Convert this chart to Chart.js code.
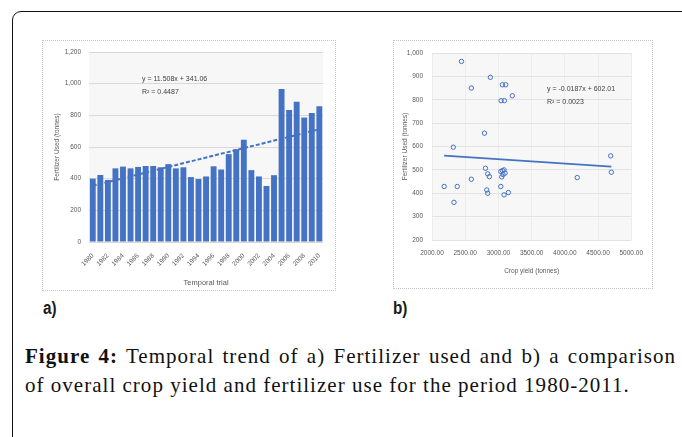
<!DOCTYPE html>
<html>
<head>
<meta charset="utf-8">
<script src="https://cdn.jsdelivr.net/npm/chart.js@4.4.1/dist/chart.umd.min.js"></script>
<style>
  body { margin: 0; width: 682px; height: 437px; overflow: hidden; background: #fff; position: relative; }
  .frame { position: absolute; left: 12px; top: 11px; width: 720px; height: 480px; border: 1.6px solid #111; border-radius: 9px; }
  .panel { position: absolute; border: 1px dotted #c6c6c6; box-sizing: border-box; }
  canvas { position: absolute; }
  .eq { position: absolute; font: 7px 'Liberation Sans Narrow', 'Liberation Sans', sans-serif; color: #404040; line-height: 13px; white-space: nowrap; }
  .tag { position: absolute; font: bold 18px 'Liberation Sans Narrow', 'Liberation Sans', sans-serif; line-height: 1; color: #1a1a1a; transform: scaleX(0.85); transform-origin: left top; }
  .cap { position: absolute; left: 25px; font: 21px 'Liberation Serif', serif; letter-spacing: 1.02px; color: #111; line-height: 29px; white-space: nowrap; }
</style>
</head>
<body>
<div class="frame"></div>

<div class="panel" style="left:42px;top:40px;width:294px;height:251px"></div>
<canvas id="chartA" width="293" height="250" style="left:42px;top:40px"></canvas>
<div class="eq" style="left:142px;top:72px">y = 11.508x + 341.06<br>R² = 0.4487</div>
<div class="tag" style="left:43px;top:299px">a)</div>

<div class="panel" style="left:393px;top:40px;width:260px;height:249px"></div>
<canvas id="chartB" width="259" height="248" style="left:393px;top:40px"></canvas>
<div class="eq" style="left:547px;top:82px">y = -0.0187x + 602.01<br>R² = 0.0023</div>
<div class="tag" style="left:393px;top:299px">b)</div>

<div class="cap" style="top:342px;word-spacing:2px"><b>Figure 4:</b> Temporal trend of a) Fertilizer used and b) a comparison</div>
<div class="cap" style="top:371px">of overall crop yield and fertilizer use for the period 1980-2011.</div>

<script>
// ---- data ----
const years = ['1980', '1981', '1982', '1983', '1984', '1985', '1986', '1987', '1988', '1989',
  '1990', '1991', '1992', '1993', '1994', '1995', '1996', '1997', '1998', '1999',
  '2000', '2001', '2002', '2003', '2004', '2005', '2006', '2007', '2008', '2009', '2010'];
const fertilizer = [400, 423, 392, 465, 476, 465, 474, 480, 480, 472,
  492, 465, 472, 410, 398, 414, 478, 458, 555, 586,
  646, 454, 414, 354, 422, 966, 834, 886, 786, 814, 858];
const trendA = [355, 712];          // trend line at first and last year

const yieldX = [2444, 2879, 2592, 3060, 3110, 3040, 3090, 3209, 2790, 2321,
  2183, 2380, 2331, 2592, 2805, 2839, 2864, 2825, 2839, 3036,
  3061, 3085, 3100, 3070, 3036, 3085, 3150, 4187, 4690, 4700, 3050];
const fertY = [964, 896, 850, 864, 864, 796, 796, 817, 657, 597,
  429, 429, 361, 460, 507, 483, 471, 414, 400, 493,
  497, 500, 486, 480, 429, 393, 403, 467, 560, 490, 470];
const trendBX = [2183, 4700];
const trendBY = [561, 514];

const BLUE = '#4472c4';
Chart.defaults.font.family = "'Liberation Sans Narrow', 'Liberation Sans', sans-serif";
Chart.defaults.font.size = 6.5;
Chart.defaults.color = '#595959';

const plotBg = {
  id: 'plotBg',
  beforeDraw(c) {
    const a = c.chartArea, g = c.ctx;
    g.save(); g.fillStyle = '#f7f7f7'; g.fillRect(a.left, a.top, a.right - a.left, a.bottom - a.top); g.restore();
  }
};

// a) fertilizer bars with dashed linear trend
new Chart(document.getElementById('chartA'), {
  type: 'bar',
  data: {
    labels: years,
    datasets: [
      {
        type: 'line', spanGaps: true, order: 0,
        data: years.map((_, i) => i === 0 ? trendA[0] : i === years.length - 1 ? trendA[1] : null),
        borderColor: BLUE, borderWidth: 2, borderDash: [4, 2], pointRadius: 0
      },
      { data: fertilizer, backgroundColor: BLUE, barPercentage: 0.95, categoryPercentage: 0.82, order: 1 }
    ]
  },
  options: {
    responsive: false, animation: false,
    layout: { padding: { top: 12, right: 9, left: 11, bottom: 0 } },
    plugins: { legend: { display: false }, tooltip: { enabled: false } },
    scales: {
      x: {
        grid: { display: false, drawTicks: false }, border: { display: false },
        ticks: { autoSkip: false, minRotation: 45, maxRotation: 45, padding: 10,
          callback: (v, i) => i % 2 ? '' : years[i] },
        title: { display: true, text: 'Temporal trial', font: { size: 7.5 }, padding: { top: 0, bottom: 3 } },
        afterFit(s) { s.height = 48; }
      },
      y: {
        min: 0, max: 1200,
        ticks: { stepSize: 200, padding: 8 },
        grid: { color: '#d9d9d9', drawTicks: false }, border: { display: false },
        title: { display: true, text: 'Fertilizer Used (tonnes)', font: { size: 6.5 }, padding: 0 },
        afterFit(s) { s.width = 36; }
      }
    }
  },
  plugins: [plotBg]
});

// b) crop yield vs fertilizer scatter with linear trend
new Chart(document.getElementById('chartB'), {
  type: 'scatter',
  data: {
    datasets: [
      {
        type: 'line', data: trendBX.map((x, i) => ({ x, y: trendBY[i] })),
        borderColor: BLUE, borderWidth: 1.8, pointRadius: 0
      },
      {
        data: yieldX.map((x, i) => ({ x, y: fertY[i] })),
        pointRadius: 2.2, borderWidth: 1, borderColor: BLUE, backgroundColor: 'rgba(255,255,255,0)'
      }
    ]
  },
  options: {
    responsive: false, animation: false,
    layout: { padding: { top: 13, right: 18, left: 8, bottom: 0 } },
    plugins: { legend: { display: false }, tooltip: { enabled: false } },
    scales: {
      x: {
        type: 'linear', min: 2000, max: 5000,
        ticks: { stepSize: 500, maxRotation: 0, padding: 9, callback: v => v.toFixed(2) },
        grid: { color: '#ececec', drawTicks: false }, border: { display: false },
        title: { display: true, text: 'Crop yield (tonnes)', font: { size: 6.5 }, padding: { top: 0, bottom: 13 } },
        afterFit(s) { s.height = 48; }
      },
      y: {
        min: 200, max: 1000,
        ticks: { stepSize: 100, padding: 9 },
        grid: { color: '#e3e3e3', drawTicks: false }, border: { display: false },
        title: { display: true, text: 'Fertilizer Used (tonnes)', font: { size: 6.5 }, padding: 0 },
        afterFit(s) { s.width = 31; }
      }
    }
  },
  plugins: [plotBg]
});
</script>
</body>
</html>
